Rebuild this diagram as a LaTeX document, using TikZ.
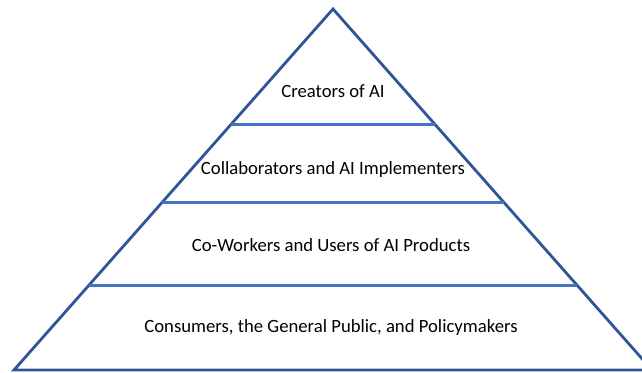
\documentclass[tikz,border=0pt]{standalone}
\usepackage{fontspec}
\setmainfont{Carlito}
\usepackage{tikz}
\usetikzlibrary{calc}

\definecolor{edgeblue}{RGB}{47,85,151}
\definecolor{tierblue}{RGB}{68,114,196}

\begin{document}
\begin{tikzpicture}[x=1pt, y=-1pt,
                    edge/.style={draw=edgeblue, line width=2.8pt, line join=miter},
                    tier/.style={draw=tierblue, line width=2.8pt},
                    label/.style={font=\fontsize{18.7}{21}\selectfont, text=black}]

        \useasboundingbox (0,0) rectangle (642,372);
        \clip (0,0) rectangle (642,372);

        \coordinate (apex) at (333,9);
        \coordinate (bl) at (14,370);
        \coordinate (br) at (652,370);

        \draw[edge] (bl) -- (apex) -- (br) -- cycle;

        \foreach \t [count=\i] in {0.321,0.535,0.765} {
            \coordinate (l\i) at ($(apex)!\t!(bl)$);
            \coordinate (r\i) at ($(apex)!\t!(br)$);
            \draw[tier] (l\i) -- (r\i);
        }

        \node[label] (creators) at (333,91) {Creators of AI};
        \node[label] (collab) at (333,170) {Collaborators and AI Implementers};
        \node[label] (coworkers) at (331,245) {Co-Workers and Users of AI Products};
        \node[label] (consumers) at (331,328) {Consumers, the General Public, and Policymakers};
    \end{tikzpicture}
\end{document}
